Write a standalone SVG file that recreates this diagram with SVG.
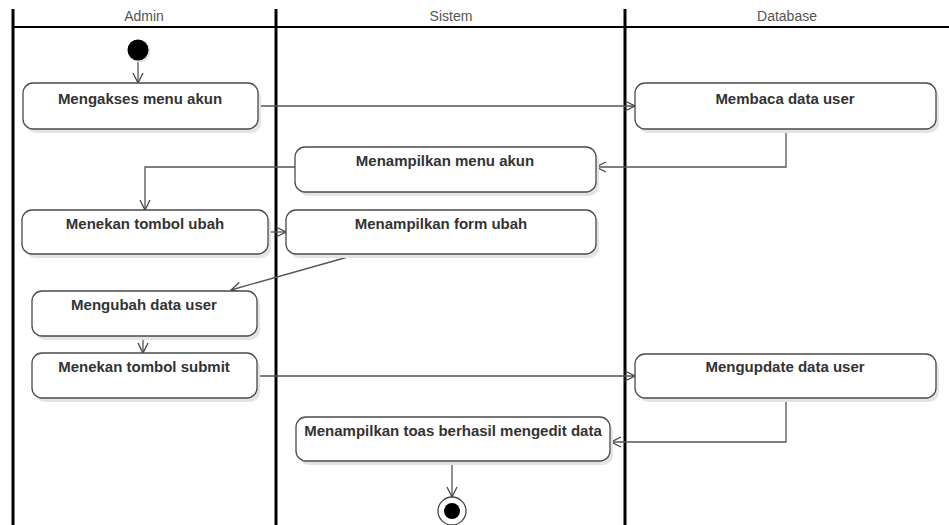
<svg xmlns="http://www.w3.org/2000/svg" width="949" height="525" viewBox="0 0 949 525">
  <style>
    .lane { stroke: #000; stroke-width: 3; fill: none; }
    .head { stroke: #000; stroke-width: 2; }
    .lanetitle { font-family: "Liberation Sans", Arial, sans-serif; font-size: 14px; fill: #555; text-anchor: middle; }
    .box { fill: #fff; stroke: #4a4a4a; stroke-width: 1.3; }
    .shadow { fill: #e4e4e4; }
    .label { font-family: "Liberation Sans", Arial, sans-serif; font-size: 15px; font-weight: bold; fill: #333; text-anchor: middle; }
    .edge { fill: none; stroke: #555; stroke-width: 1.3; marker-end: url(#arrow); }
  </style>
  <defs>
    <marker id="arrow" viewBox="0 0 12 12" refX="11" refY="6" markerWidth="12" markerHeight="12" markerUnits="userSpaceOnUse" orient="auto">
      <path d="M1,1 L11,6 L1,11" fill="none" stroke="#444" stroke-width="1.3"/>
    </marker>
  </defs>
  <rect width="949" height="525" fill="#fff"/>

  <!-- swimlanes -->
  <g id="lanes">
    <line class="head" x1="13" y1="27" x2="949" y2="27"/>
    <line class="lane" x1="13" y1="9" x2="13" y2="525"/>
    <line class="lane" x1="276" y1="9" x2="276" y2="525"/>
    <line class="lane" x1="625" y1="9" x2="625" y2="525"/>
    <text class="lanetitle" x="144" y="21">Admin</text>
    <text class="lanetitle" x="451" y="21">Sistem</text>
    <text class="lanetitle" x="787" y="21">Database</text>
  </g>

  <!-- connectors -->
  <g id="connectors">
    <path class="edge" d="M138,61 V83"/>
    <path class="edge" d="M258,106 H635"/>
    <path class="edge" d="M786,129 V167 H596"/>
    <path class="edge" d="M295,167 H145 V210"/>
    <path class="edge" d="M268,232 H286"/>
    <path class="edge" d="M355,255 L231,290"/>
    <path class="edge" d="M143,336 V353"/>
    <path class="edge" d="M257,376 H635"/>
    <path class="edge" d="M786,398 V442 H611"/>
    <path class="edge" d="M452,461 V497"/>
  </g>

  <g id="start">
    <circle cx="140" cy="52" r="10.5" class="shadow"/>
    <circle cx="138" cy="50" r="10.5" fill="#000"/>
  </g>

  <g id="mengakses">
    <rect class="shadow" x="26" y="87" width="235" height="46" rx="10"/>
    <rect class="box" x="23" y="83" width="235" height="46" rx="10"/>
    <text class="label" x="140" y="104">Mengakses menu akun</text>
  </g>

  <g id="membaca">
    <rect class="shadow" x="638" y="87" width="301" height="46" rx="10"/>
    <rect class="box" x="635" y="83" width="301" height="46" rx="10"/>
    <text class="label" x="785" y="104">Membaca data user</text>
  </g>

  <g id="menampilkan-menu">
    <rect class="shadow" x="298" y="151" width="301" height="45" rx="10"/>
    <rect class="box" x="295" y="147" width="301" height="45" rx="10"/>
    <text class="label" x="445" y="166">Menampilkan menu akun</text>
  </g>

  <g id="menekan-ubah">
    <rect class="shadow" x="25" y="214" width="246" height="44" rx="10"/>
    <rect class="box" x="22" y="210" width="246" height="44" rx="10"/>
    <text class="label" x="145" y="229">Menekan tombol ubah</text>
  </g>

  <g id="menampilkan-form">
    <rect class="shadow" x="289" y="214" width="310" height="44" rx="10"/>
    <rect class="box" x="286" y="210" width="310" height="44" rx="10"/>
    <text class="label" x="441" y="229">Menampilkan form ubah</text>
  </g>

  <g id="mengubah">
    <rect class="shadow" x="35" y="295" width="225" height="45" rx="10"/>
    <rect class="box" x="32" y="291" width="225" height="45" rx="10"/>
    <text class="label" x="144" y="310">Mengubah data user</text>
  </g>

  <g id="menekan-submit">
    <rect class="shadow" x="35" y="357" width="225" height="45" rx="10"/>
    <rect class="box" x="32" y="353" width="225" height="45" rx="10"/>
    <text class="label" x="144" y="372">Menekan tombol submit</text>
  </g>

  <g id="mengupdate">
    <rect class="shadow" x="638" y="358" width="301" height="44" rx="10"/>
    <rect class="box" x="635" y="354" width="301" height="44" rx="10"/>
    <text class="label" x="785" y="372">Mengupdate data user</text>
  </g>

  <g id="menampilkan-toas">
    <rect class="shadow" x="299" y="421" width="314" height="44" rx="10"/>
    <rect class="box" x="296" y="417" width="314" height="44" rx="10"/>
    <text class="label" x="453" y="436">Menampilkan toas berhasil mengedit data</text>
  </g>

  <g id="end">
    <circle cx="452" cy="511" r="14" fill="#fff" stroke="#444" stroke-width="1.3"/>
    <circle cx="452" cy="511" r="8" fill="#000"/>
  </g>
</svg>
